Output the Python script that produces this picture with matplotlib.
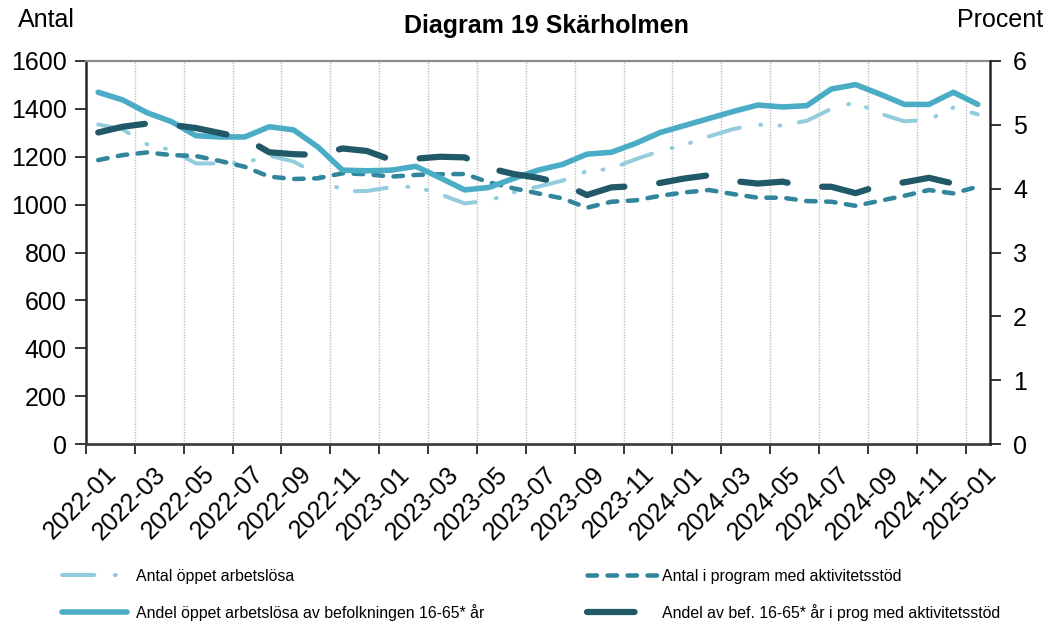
import numpy as np
import matplotlib
matplotlib.use("Agg")
import matplotlib.pyplot as plt
import matplotlib.transforms as mtransforms

# data
months=[str(y)+"-"+str(m).zfill(2) for y in (2022,2023,2024) for m in range(1,13)]+["2025-01"]

antal_opp=[1335,1314,1252,1228,1172,1172,1175,1205,1180,1125,
           1056,1057,1073,1075,1043,1005,1017,1051,1075,1100,
           1140,1150,1190,1224,1250,1285,1316,1334,1330,1350,
           1400,1427,1380,1348,1355,1406,1377]
antal_prog=[1186,1207,1218,1207,1203,1182,1158,1117,1107,1110,
            1131,1127,1117,1124,1127,1128,1093,1068,1047,1026,
            987,1012,1018,1037,1051,1061,1044,1029,1029,1015,
            1012,995,1016,1037,1061,1047,1075]
andel_opp=[5.51,5.39,5.19,5.05,4.83,4.81,4.81,4.97,4.92,4.65,
           4.29,4.28,4.29,4.35,4.17,3.98,4.02,4.16,4.29,4.38,
           4.54,4.57,4.71,4.88,4.99,5.10,5.21,5.31,5.28,5.30,
           5.56,5.63,5.48,5.32,5.32,5.51,5.32]
andel_prog=[4.88,4.97,5.02,5.00,4.95,4.87,4.79,4.57,4.54,4.53,
            4.63,4.59,4.45,4.47,4.50,4.49,4.32,4.23,4.17,4.08,
            3.90,4.02,4.04,4.09,4.16,4.21,4.12,4.08,4.11,4.03,
            4.03,3.93,4.05,4.10,4.17,4.08,4.12]

label0=["Antal öppet arbetslösa",
        "Andel öppet arbetslösa av befolkningen 16-65* år",
        "Antal i program med aktivitetsstöd",
        "Andel av bef. 16-65* år i prog med aktivitetsstöd"]

# plotstyle
plt.rcParams['font.family']=['Liberation Sans','DejaVu Sans']
FS=18
W=1049;H=627

c0='#93CDDD'  # antal oppet
c1='#31859C'  # antal prog
c2='#4BACC6'  # andel oppet
c3='#215968'  # andel prog
dark='#262626'

f0=plt.figure(figsize=(W/100,H/100),dpi=100)
ax0=f0.add_axes([86/W,1-444/H,(990-86)/W,(444-61)/H])
ax1=ax0.twinx()

x=np.arange(len(months))
l0,=ax0.plot(x,antal_opp,color=c0,lw=2.9,ls=(0,(8,5.1,0.25,4.5,0.25,4.7)),
             dash_capstyle='round',dash_joinstyle='round')
l1,=ax0.plot(x,antal_prog,color=c1,lw=3.25,ls=(0,(2.1,2.33)),
             dash_capstyle='round',dash_joinstyle='round')
l2,=ax1.plot(x,andel_opp,color=c2,lw=4.0,solid_capstyle='round',solid_joinstyle='round')
l3,=ax1.plot(x,andel_prog,color=c3,lw=4.5,ls=(0,(7.6,5.6)),
             dash_capstyle='round',dash_joinstyle='round')

ax0.set_xlim(-0.5,len(months)-0.5)
ax0.set_ylim(0,1600)
ax1.set_ylim(0,6)
ax0.set_yticks(range(0,1601,200))
ax1.set_yticks(range(0,7))

# x ticks at boundaries, labels at every other month
ax0.set_xticks(np.arange(-0.5,len(months)-1,2))
ax0.set_xticklabels([])
ax0.set_xticks(x[::2],minor=True)
ax0.set_xticklabels(months[::2],minor=True,rotation=45,ha='right',va='top',
                    rotation_mode='anchor',fontsize=FS)
ax0.tick_params(axis='x',which='major',direction='out',length=7,width=1.3,color=dark)
ax0.tick_params(axis='x',which='minor',length=0,pad=13)
off=mtransforms.ScaledTranslation(6/100,0,f0.dpi_scale_trans)
for t in ax0.xaxis.get_minorticklabels():
    t.set_transform(t.get_transform()+off)

ax0.xaxis.grid(True,which='major',color='#BFBFBF',ls=(0,(1,1)),lw=1)
ax0.set_axisbelow(True)

ax0.tick_params(axis='y',direction='out',length=8,width=1.3,color=dark,labelsize=FS,pad=6)
ax1.tick_params(axis='y',direction='out',length=8,width=1.3,color=dark,labelsize=FS,pad=8.7)

ax0.spines['top'].set_color('#8C8C8C');ax0.spines['top'].set_linewidth(1.6)
ax0.spines['left'].set_color(dark);ax0.spines['left'].set_linewidth(1.8)
ax0.spines['bottom'].set_color('#404040');ax0.spines['bottom'].set_linewidth(2)
ax0.spines['right'].set_visible(False)
for s in ['left','top','bottom']:
    ax1.spines[s].set_visible(False)
ax1.spines['right'].set_color(dark);ax1.spines['right'].set_linewidth(1.8)

# texts
f0.text(18/W,1-27/H,"Antal",fontsize=FS,ha='left',va='baseline')
f0.text(1043/W,1-27/H,"Procent",fontsize=FS,ha='right',va='baseline')
f0.text(546/W,1-33/H,"Diagram 19 Skärholmen",fontsize=18,fontweight='bold',ha='center',va='baseline')

# legend (two columns as two legends)
LFS=11.4
lpx=LFS*100/72
legend0=f0.legend([l0,l2],label0[:2],loc='upper left',bbox_to_anchor=(62/W,1-569/H),
                  frameon=False,fontsize=LFS,handlelength=65/lpx,handletextpad=9/lpx,
                  labelspacing=1.25,borderpad=0,borderaxespad=0)
legend1=f0.legend([l1,l3],label0[2:],loc='upper left',bbox_to_anchor=(587/W,1-569/H),
                  frameon=False,fontsize=LFS,handlelength=72/lpx,handletextpad=3/lpx,
                  labelspacing=1.25,borderpad=0,borderaxespad=0)

f0.savefig("out.png",dpi=100)
